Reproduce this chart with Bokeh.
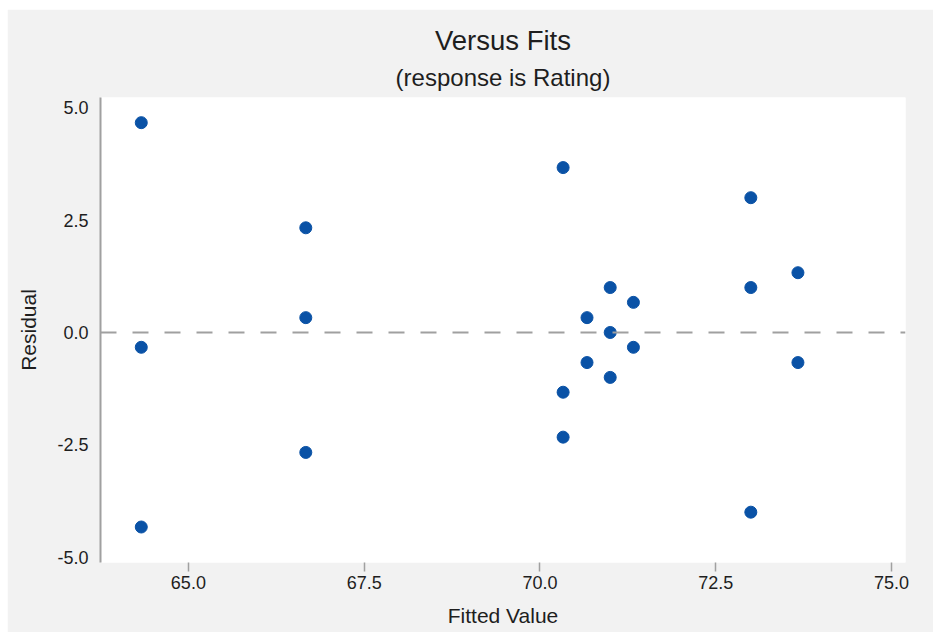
from bokeh.plotting import figure
from bokeh.layouts import column, row
from bokeh.models import Title, Span, FixedTicker, PrintfTickFormatter, Range1d, Spacer
from bokeh.embed import file_html
from bokeh.resources import INLINE

# Data
fitted = [64.33, 64.33, 64.33, 66.67, 66.67, 66.67, 70.33, 70.33, 70.33,
          70.67, 70.67, 71.00, 71.00, 71.00, 71.33, 71.33, 73.00, 73.00,
          73.00, 73.67, 73.67]
residual = [4.67, -0.33, -4.33, 2.33, 0.33, -2.67, 3.67, -1.33, -2.33,
            0.33, -0.67, 1.00, 0.00, -1.00, 0.67, -0.33, 3.00, 1.00,
            -4.00, 1.33, -0.67]
x_ticks = [65.0, 67.5, 70.0, 72.5, 75.0]
y_ticks = [-5.0, -2.5, 0.0, 2.5, 5.0]

FONT = "Liberation Sans"
TXT = "#1e1e1e"
GRAY = "#a0a0a0"

p = figure(width=926, height=623, output_backend="svg", toolbar_location=None,
           title=None,
           x_range=Range1d(63.75, 75.2), y_range=Range1d(-5.12, 5.23),
           min_border_left=93, min_border_right=28,
           min_border_top=88, min_border_bottom=70)

p.background_fill_color = "white"
p.border_fill_color = "#f2f2f2"
p.outline_line_color = None
p.xgrid.grid_line_color = None
p.ygrid.grid_line_color = None

p.add_layout(Title(text="(response is Rating)", align="center",
                   text_font=FONT, text_font_size="24px",
                   text_font_style="normal", text_color=TXT,
                   standoff=13), "above")
p.add_layout(Title(text="Versus Fits", align="center",
                   text_font=FONT, text_font_size="27.5px",
                   text_font_style="normal", text_color=TXT,
                   standoff=0), "above")

# x axis
xa = p.xaxis[0]
xa.ticker = FixedTicker(ticks=x_ticks)
xa.formatter = PrintfTickFormatter(format="%.1f")
xa.minor_tick_line_color = None
xa.axis_line_color = None
xa.major_tick_line_color = GRAY
xa.major_tick_line_width = 1.5
xa.major_tick_in = 0
xa.major_tick_out = 9
xa.major_label_standoff = 4
xa.major_label_text_font = FONT
xa.major_label_text_font_size = "18px"
xa.major_label_text_color = TXT
xa.axis_label = "Fitted Value"
xa.axis_label_text_font = FONT
xa.axis_label_text_font_size = "21px"
xa.axis_label_text_font_style = "normal"
xa.axis_label_text_color = TXT
xa.axis_label_standoff = 12

# y axis
ya = p.yaxis[0]
ya.ticker = FixedTicker(ticks=y_ticks)
ya.formatter = PrintfTickFormatter(format="%.1f")
ya.minor_tick_line_color = None
ya.axis_line_color = GRAY
ya.axis_line_width = 2
ya.major_tick_line_color = None
ya.major_tick_in = 0
ya.major_tick_out = 0
ya.major_label_standoff = 12
ya.major_label_text_font = FONT
ya.major_label_text_font_size = "18px"
ya.major_label_text_color = TXT
ya.axis_label = "Residual"
ya.axis_label_text_font = FONT
ya.axis_label_text_font_size = "21px"
ya.axis_label_text_font_style = "normal"
ya.axis_label_text_color = TXT
ya.axis_label_standoff = 14

# zero reference line
p.add_layout(Span(location=0, dimension="width", line_color=GRAY,
                  line_width=2, line_dash="16 16"))

p.scatter(fitted, residual, size=12, marker="circle",
          fill_color="#0a52a6", line_color="#0a52a6")

layout = column(Spacer(height=9), row(Spacer(width=7), p))

open("out.html", "w").write(file_html(layout, INLINE))
